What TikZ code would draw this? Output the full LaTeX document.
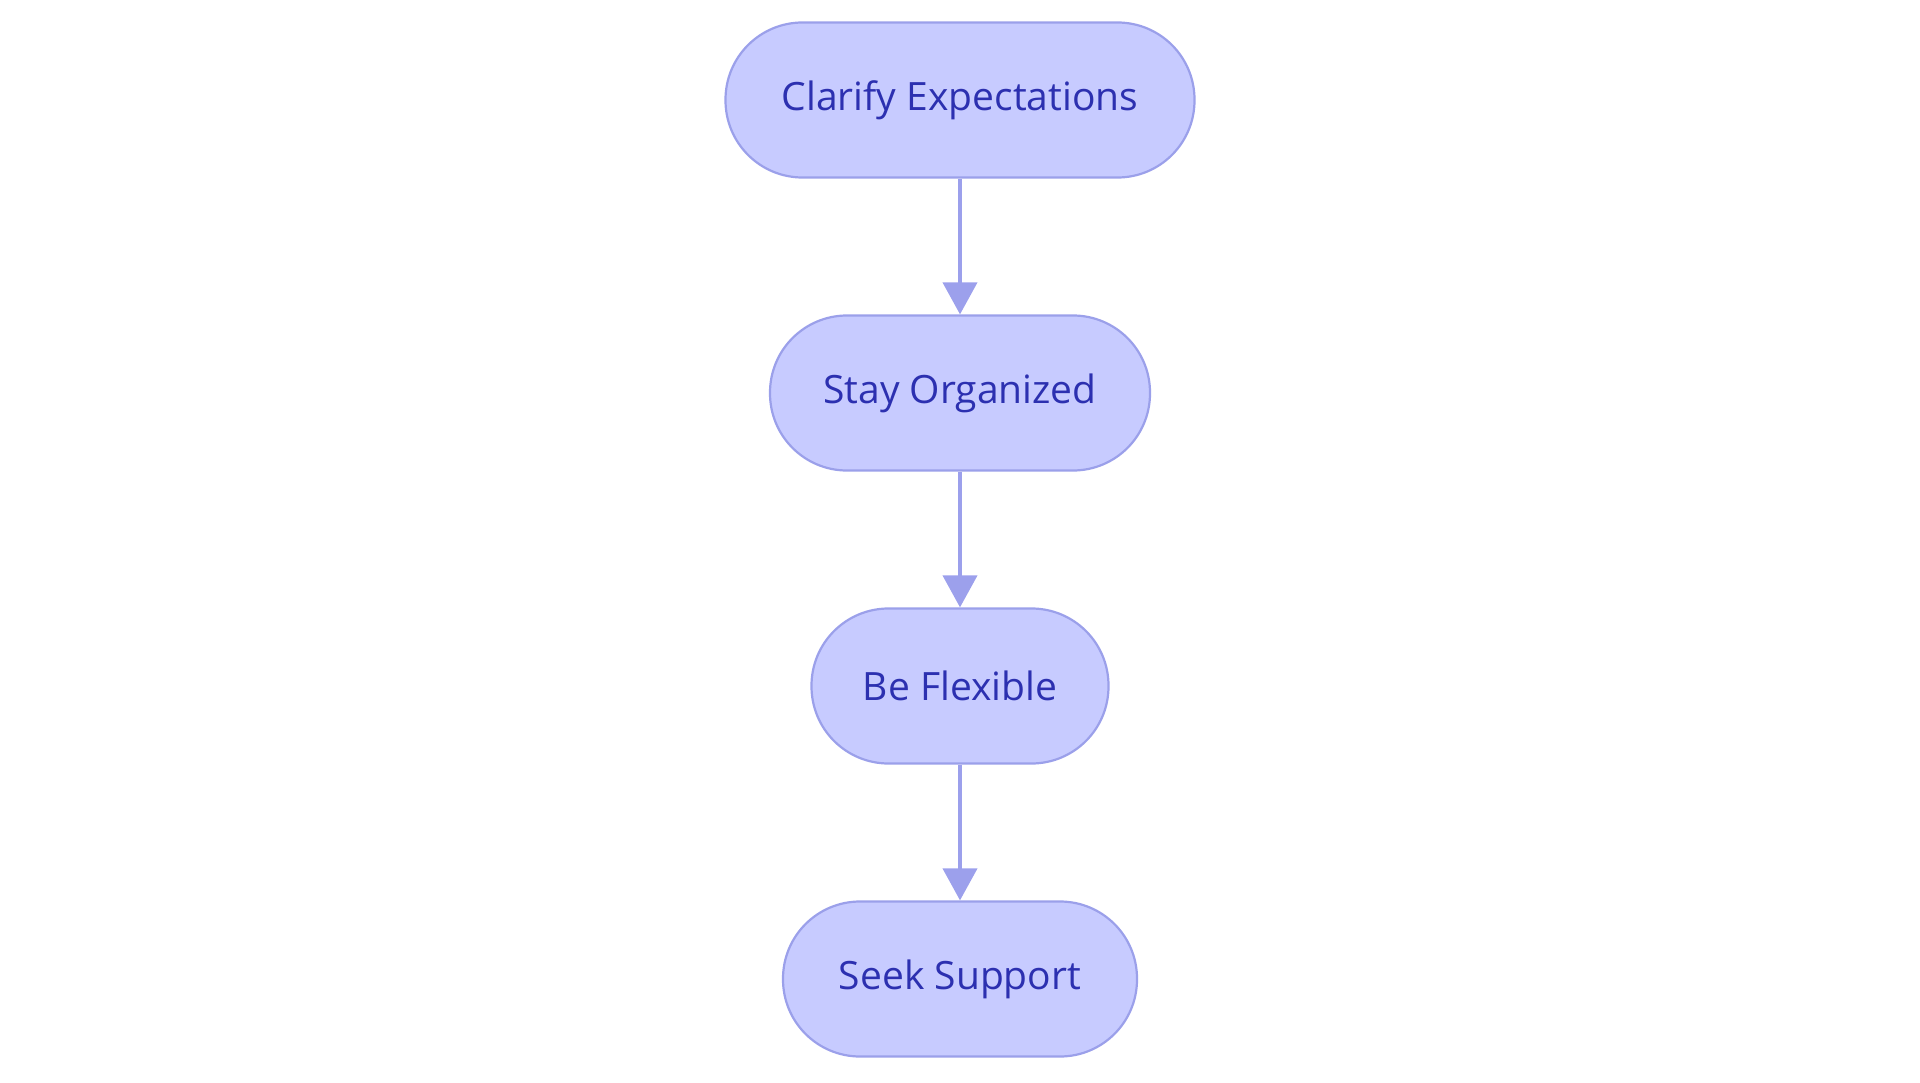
\documentclass[tikz,border=0pt]{standalone}
\usepackage{fontspec}
\setmainfont{Open Sans}
\usetikzlibrary{arrows.meta}
\definecolor{pillfill}{HTML}{C7CBFF}
\definecolor{pilldraw}{HTML}{9BA0EA}
\definecolor{pilltext}{HTML}{2C30B0}
\definecolor{flowline}{HTML}{9CA0EC}

\begin{document}
\begin{tikzpicture}[node distance=293pt, auto,
        pill/.style={draw=pilldraw, fill=pillfill, line width=2.2pt, text=pilltext,
            rounded corners=77pt, minimum height=155pt, font=\fontsize{39}{46}\selectfont},
        flow/.style={-{Triangle[width=34pt,length=32pt]}, line width=4pt, draw=flowline}]
        \useasboundingbox (0,0) rectangle (1920pt,-1083pt);

        % Steps (one column)
        \node[pill, minimum width=469pt] (Clarify) at (960pt,-100pt) {Clarify Expectations};
        \node[pill, minimum width=380pt] (Organized) [below of=Clarify] {Stay Organized};
        \node[pill, minimum width=297pt] (Flexible) [below of=Organized] {Be Flexible};
        \node[pill, minimum width=354pt] (Support) [below of=Flexible] {Seek Support};

        % Connectors
        \draw[flow] (Clarify) -- (Organized);
        \draw[flow] (Organized) -- (Flexible);
        \draw[flow] (Flexible) -- (Support);
    \end{tikzpicture}
\end{document}
